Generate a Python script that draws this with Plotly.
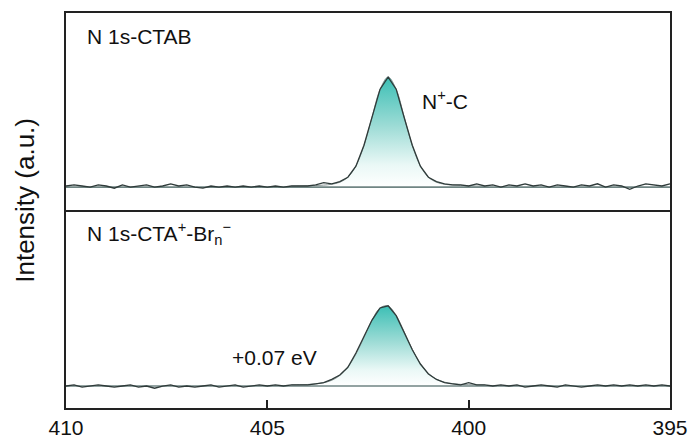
import plotly.graph_objects as go

# ---------------- data ----------------
energy = [410.0, 409.8, 409.6, 409.4, 409.2, 409.0, 408.8, 408.6, 408.4, 408.2,
          408.0, 407.8, 407.6, 407.4, 407.2, 407.0, 406.8, 406.6, 406.4, 406.2,
          406.0, 405.8, 405.6, 405.4, 405.2, 405.0, 404.8, 404.6, 404.4, 404.2,
          404.0, 403.8, 403.6, 403.4, 403.2, 403.0, 402.8, 402.6, 402.4, 402.2,
          402.0, 401.8, 401.6, 401.4, 401.2, 401.0, 400.8, 400.6, 400.4, 400.2,
          400.0, 399.8, 399.6, 399.4, 399.2, 399.0, 398.8, 398.6, 398.4, 398.2,
          398.0, 397.8, 397.6, 397.4, 397.2, 397.0, 396.8, 396.6, 396.4, 396.2,
          396.0, 395.8, 395.6, 395.4, 395.2, 395.0]

ctab_raw = [0.01, 0.02, 0.01, 0.00, 0.02, 0.01, -0.01, 0.02, 0.00, 0.01,
            0.02, 0.00, 0.01, 0.03, 0.01, 0.02, 0.00, -0.01, 0.01, 0.00,
            0.01, 0.00, 0.01, 0.00, 0.01, 0.00, 0.01, 0.00, 0.01, 0.01,
            0.01, 0.02, 0.04, 0.03, 0.05, 0.09, 0.19, 0.38, 0.64, 0.89,
            1.00, 0.89, 0.63, 0.38, 0.19, 0.09, 0.05, 0.03, 0.02, 0.02,
            0.01, 0.03, 0.01, 0.02, 0.00, 0.02, 0.01, 0.03, 0.01, 0.02,
            0.00, 0.02, 0.01, 0.00, 0.02, 0.01, 0.03, 0.00, 0.02, 0.01,
            -0.02, 0.01, 0.03, 0.02, 0.01, 0.03]

brn_raw = [0.00, 0.01, -0.01, 0.00, 0.01, 0.00, -0.01, 0.00, 0.01, -0.01,
           0.00, -0.02, 0.00, 0.01, -0.01, 0.00, -0.01, 0.00, 0.01, -0.01,
           0.00, 0.01, -0.01, 0.00, 0.01, 0.00, 0.01, 0.00, 0.01, 0.01,
           0.01, 0.02, 0.03, 0.06, 0.10, 0.17, 0.30, 0.45, 0.60, 0.71,
           0.73, 0.64, 0.49, 0.33, 0.20, 0.11, 0.06, 0.03, 0.02, 0.01,
           0.03, 0.01, 0.01, 0.00, 0.01, 0.00, 0.01, -0.01, 0.00, 0.01,
           0.00, -0.01, 0.01, 0.00, -0.01, 0.00, 0.01, 0.00, 0.01, 0.00,
           0.01, 0.00, 0.01, 0.00, 0.01, 0.00]

fit_energy = [404.4, 404.2, 404.0, 403.8, 403.6, 403.4, 403.2, 403.0, 402.8, 402.6,
              402.4, 402.2, 402.0, 401.8, 401.6, 401.4, 401.2, 401.0, 400.8, 400.6,
              400.4, 400.2, 400.0, 399.8, 399.6]
ctab_fit = [0.008, 0.010, 0.012, 0.014, 0.018, 0.026, 0.044, 0.090, 0.192, 0.377,
            0.635, 0.888, 1.000, 0.888, 0.635, 0.377, 0.192, 0.090, 0.044, 0.026,
            0.018, 0.014, 0.012, 0.010, 0.008]
brn_fit = [0.010, 0.012, 0.014, 0.020, 0.030, 0.052, 0.096, 0.172, 0.290, 0.442,
           0.600, 0.711, 0.728, 0.641, 0.492, 0.334, 0.204, 0.115, 0.062, 0.035,
           0.022, 0.015, 0.012, 0.010, 0.009]

baseline_x = [410.0, 395.0]
baseline_y = [0.0, 0.0]

x_ticks = [410, 405, 400, 395]

# ---------------- styling ----------------
FONT = "Liberation Sans, Arial, sans-serif"
RAW_COLOR = "#2f3b3a"
FIT_COLOR = "#8a9695"
BASE_COLOR = "#6f8583"
GRAD = [[0.0, "rgba(255,255,255,1)"], [0.2, "#eaf8f6"],
        [0.55, "#9edcd6"], [1.0, "#3cbfb5"]]

fig = go.Figure()

panels = [("x2", "y2", ctab_raw, ctab_fit), ("x", "y", brn_raw, brn_fit)]
for xa, ya, raw, fit in panels:
    fig.add_trace(go.Scatter(
        x=fit_energy, y=fit, xaxis=xa, yaxis=ya, mode="lines",
        line=dict(color=FIT_COLOR, width=1, shape="spline"),
        fill="tozeroy",
        fillgradient=dict(type="vertical", colorscale=GRAD,
                          start=0, stop=max(fit)),
        hoverinfo="skip", showlegend=False))
    fig.add_trace(go.Scatter(
        x=baseline_x, y=baseline_y, xaxis=xa, yaxis=ya, mode="lines",
        line=dict(color=BASE_COLOR, width=1.6),
        hoverinfo="skip", showlegend=False))
    fig.add_trace(go.Scatter(
        x=energy, y=raw, xaxis=xa, yaxis=ya, mode="lines",
        line=dict(color=RAW_COLOR, width=1.3),
        showlegend=False))

split = 0.501
line_style = dict(showline=True, linecolor="#222", linewidth=1.5,
                  showgrid=False, zeroline=False, automargin=False)

fig.update_layout(
    width=694, height=439,
    margin=dict(l=66, r=24, t=13, b=31),
    paper_bgcolor="white", plot_bgcolor="white",
    font=dict(family=FONT, color="#111", size=21),
    xaxis=dict(domain=[0, 1], anchor="y", range=[410, 395], mirror=False,
               tickvals=x_ticks, ticks="inside", ticklen=8, tickwidth=1.5,
               tickcolor="#222", tickfont=dict(size=21), **line_style),
    yaxis=dict(domain=[0, split], anchor="x", range=[-0.2, 1.6], mirror=True,
               showticklabels=False, ticks="", **line_style),
    xaxis2=dict(domain=[0, 1], anchor="y2", range=[410, 395], mirror=True,
                showticklabels=False, ticks="", matches="x", **line_style),
    yaxis2=dict(domain=[split, 1], anchor="x2", range=[-0.209, 1.582],
                mirror=True, showticklabels=False, ticks="", **line_style),
    annotations=[
        dict(text="N 1s-CTAB", xref="x2 domain", yref="y2 domain",
             x=0.031, y=0.883, xanchor="left", yanchor="middle",
             showarrow=False, font=dict(size=21)),
        dict(text="N 1s-CTA<sup>+</sup>-Br<sub>n</sub><sup>\u2212</sup>",
             xref="x domain", yref="y domain",
             x=0.031, y=0.88, xanchor="left", yanchor="middle",
             showarrow=False, font=dict(size=21)),
        dict(text="N<sup>+</sup>-C", xref="x2", yref="y2",
             x=401.21, y=0.79, xanchor="left", yanchor="middle",
             showarrow=False, font=dict(size=21)),
        dict(text="+0.07 eV", xref="x", yref="y",
             x=404.83, y=0.255, xanchor="center", yanchor="middle",
             showarrow=False, font=dict(size=21)),
        dict(text="Intensity (a.u.)", xref="paper", yref="paper",
             x=-0.068, y=0.527, xanchor="center", yanchor="middle",
             textangle=-90, showarrow=False, font=dict(size=26)),
    ],
)

fig.write_html(
    "out.html",
    config={"displayModeBar": False},
    post_script="document.body.style.margin='0';document.body.style.padding='0';",
)
